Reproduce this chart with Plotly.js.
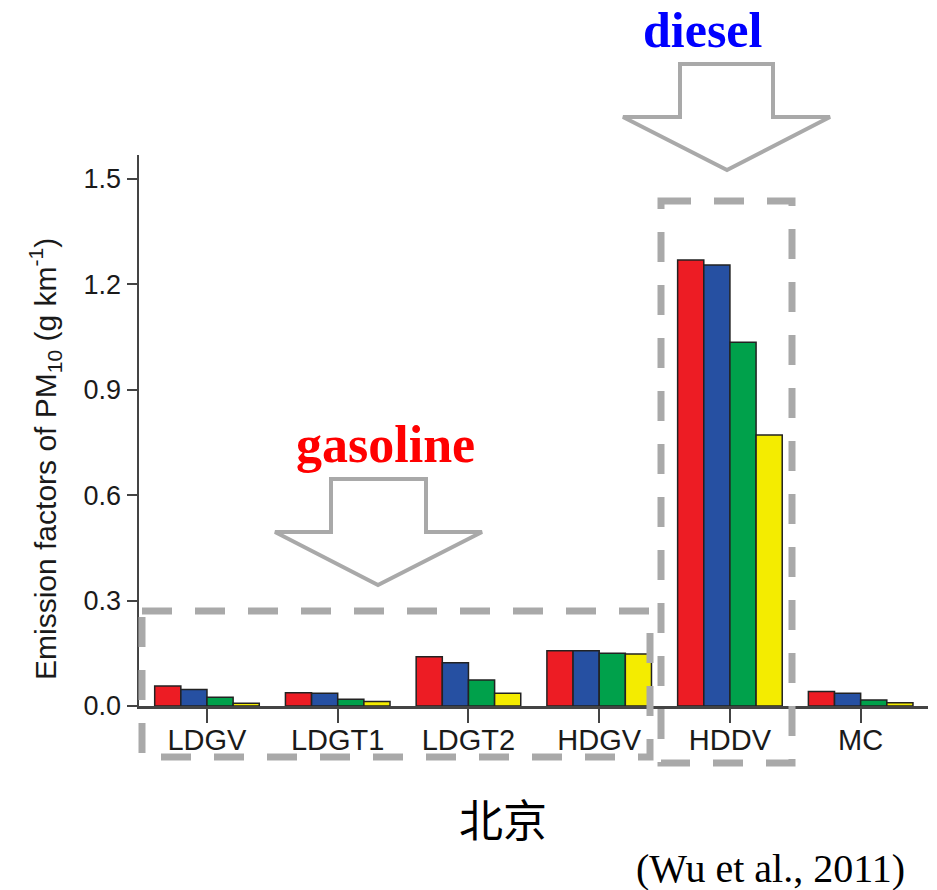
<!DOCTYPE html>
<html>
<head>
<meta charset="utf-8">
<script src="https://cdn.plot.ly/plotly-3.0.1.min.js"></script>
<style>html,body{margin:0;padding:0;background:#fff;}#chart{width:937px;height:890px;}</style>
</head>
<body>
<div id="chart"></div>
<script>
// ---- data ----
const categories = ['LDGV', 'LDGT1', 'LDGT2', 'HDGV', 'HDDV', 'MC'];
const seriesNames = ['Series 1', 'Series 2', 'Series 3', 'Series 4'];
const redValues    = [0.057, 0.038, 0.140, 0.157, 1.269, 0.041];
const blueValues   = [0.047, 0.036, 0.123, 0.157, 1.255, 0.036];
const greenValues  = [0.025, 0.019, 0.074, 0.150, 1.035, 0.017];
const yellowValues = [0.008, 0.013, 0.036, 0.148, 0.771, 0.009];
const yTickValues  = [0.0, 0.3, 0.6, 0.9, 1.2, 1.5];
const yTickLabels  = ['0.0', '0.3', '0.6', '0.9', '1.2', '1.5'];
const yTitle = 'Emission factors of PM<sub>10</sub> (g km<sup>-1</sup>)';

// ---- styling ----
const colors = ['#ed1c24', '#2650a2', '#00a14b', '#f4ec00'];
const allValues = [redValues, blueValues, greenValues, yellowValues];

const traces = allValues.map((vals, i) => ({
  type: 'bar',
  x: categories,
  y: vals,
  name: seriesNames[i],
  marker: {color: colors[i], line: {color: '#222', width: 1.5}},
  hoverinfo: 'x+y'
}));

// layout geometry (pixels)
const W = 937, H = 890;
const L = 139, R = 928, T = 155, B = 706;
const px = x => (x - L) / (R - L);
const py = y => (B - y) / (B - T);

function arrowPath(pts) {
  return 'M' + pts.map(p => px(p[0]).toFixed(5) + ',' + py(p[1]).toFixed(5)).join(' L') + ' Z';
}

const grey = '#a9a9a9';
const shapes = [
  {type: 'rect', xref: 'paper', yref: 'paper', x0: px(142), x1: px(650), y0: py(611), y1: py(757),
   line: {color: grey, width: 7, dash: '30px,23px'}, layer: 'above'},
  {type: 'rect', xref: 'paper', yref: 'paper', x0: px(661), x1: px(792), y0: py(201), y1: py(763),
   line: {color: grey, width: 7, dash: '30px,23px'}, layer: 'above'},
  {type: 'path', xref: 'paper', yref: 'paper',
   path: arrowPath([[680,64],[773,64],[773,117],[830,117],[727,170],[623,117],[680,117]]),
   line: {color: grey, width: 4}, fillcolor: '#fff'},
  {type: 'path', xref: 'paper', yref: 'paper',
   path: arrowPath([[331,479],[426,479],[426,532],[482,532],[378,585],[275,532],[331,532]]),
   line: {color: grey, width: 4}, fillcolor: '#fff'}
];

const serif = '"Liberation Serif", "Times New Roman", serif';
const ann = (text, x, y, font, extra) => Object.assign({text, xref: 'paper', yref: 'paper', x: px(x), y: py(y),
  xanchor: 'center', yanchor: 'middle', showarrow: false, font}, extra || {});
const annotations = [
  ann('<b>diesel</b>', 703, 30, {family: serif, size: 50, color: '#0000ff'}),
  ann('<b>gasoline</b>', 385, 444, {family: serif, size: 52, color: '#ff0000'}),
  ann('北京', 503, 818, {family: '"Noto Sans CJK SC", sans-serif', size: 44, color: '#000'}),
  ann('(Wu et al., 2011)', 770, 868, {family: serif, size: 40, color: '#000'}),
  ann(yTitle, 45, 459, {family: '"Liberation Sans", Arial, sans-serif', size: 30, color: '#1a1a1a'}, {textangle: -90})
];

const layout = {
  width: W, height: H,
  margin: {l: L, r: W - R, t: T, b: H - B, pad: 0},
  paper_bgcolor: '#fff', plot_bgcolor: '#fff',
  showlegend: false,
  barmode: 'group', bargap: 0.2, bargroupgap: 0,
  font: {family: '"Liberation Sans", Arial, sans-serif', color: '#222'},
  xaxis: {
    type: 'category', range: [-0.52, 5.515], fixedrange: true,
    showline: true, linecolor: '#444', linewidth: 2.5,
    ticks: 'outside', ticklen: 14, tickwidth: 2, tickcolor: '#444',
    ticklabelstandoff: -7,
    tickfont: {size: 29, color: '#1a1a1a'}, showgrid: false, zeroline: false
  },
  yaxis: {
    range: [0, 1.568], fixedrange: true,
    showline: true, linecolor: '#444', linewidth: 2.5,
    ticks: 'outside', ticklen: 10, tickwidth: 2, tickcolor: '#444',
    tickvals: yTickValues, ticktext: yTickLabels,
    tickfont: {size: 27, color: '#1a1a1a'}, showgrid: false, zeroline: false
  },
  shapes: shapes,
  annotations: annotations
};

Plotly.newPlot('chart', traces, layout, {displayModeBar: false, staticPlot: true});
</script>
</body>
</html>
